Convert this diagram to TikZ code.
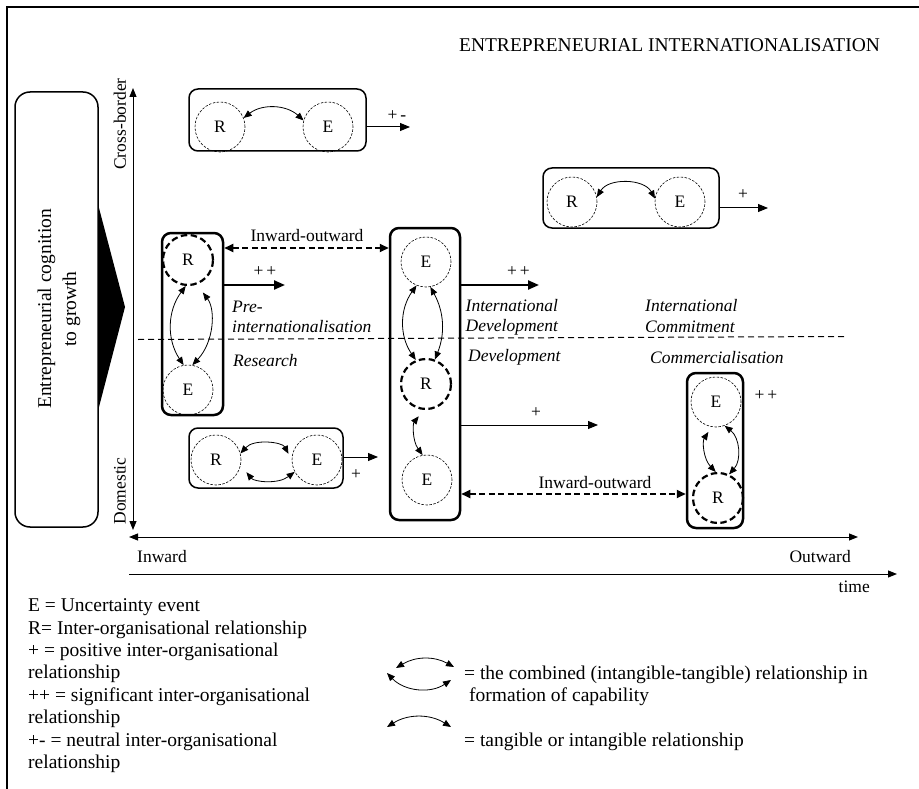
\documentclass[tikz,border=0pt]{standalone}
\usepackage{fontspec}
\setmainfont{Liberation Serif}
\usetikzlibrary{arrows.meta}
\newcommand{\fsA}{\fontsize{17.5}{20}\selectfont}
\newcommand{\fsB}{\fontsize{19.5}{25}\selectfont}
\begin{document}
\begin{tikzpicture}[x=1pt,y=-1pt,
  lbl/.style={font=\fsA, inner sep=0pt},
  ilbl/.style={font=\fsA\itshape, inner sep=0pt, anchor=base west},
  lgd/.style={font=\fsB, inner sep=0pt, anchor=base west},
  circ/.style={circle, minimum size=50pt, inner sep=0pt, font=\fsA},
  ecirc/.style={circ, draw, line width=0.6pt, dash pattern=on 2.5pt off 1.5pt},
  rcirc/.style={circ, draw, line width=2.2pt, dash pattern=on 6.5pt off 3.5pt},
  smallbox/.style={draw, rounded corners=9pt, line width=1.5pt, inner sep=0pt},
  tallbox/.style={draw, rounded corners=9pt, line width=2.5pt, inner sep=0pt},
  thinarr/.style={-{Triangle[length=10pt,width=8pt]}, line width=1pt},
  thickarr/.style={-{Triangle[length=11pt,width=9pt]}, line width=2.2pt},
  ioarr/.style={{Triangle[length=9pt,width=8pt]}-{Triangle[length=9pt,width=8pt]}, line width=2pt, dash pattern=on 6pt off 3.5pt},
  relarc/.style={{Triangle[length=8pt,width=6.5pt]}-{Triangle[length=8pt,width=6.5pt]}, line width=0.8pt},
  axisarr/.style={line width=1pt},
  dtip/.style={{Triangle[length=9pt,width=7pt]}-{Triangle[length=9pt,width=7pt]}},
  stip/.style={-{Triangle[length=9pt,width=7pt]}}
]
\useasboundingbox (0,0) rectangle (919,789);

% frame
\draw[line width=1.5pt] (7,789) -- (7,7) -- (919,7);

% title
\node[lgd, anchor=base] (title) at (669.5,52) {ENTREPRENEURIAL INTERNATIONALISATION};

% cognition box and wedge
\node[draw, rounded corners=15pt, line width=1.5pt, minimum width=83pt, minimum height=435pt, inner sep=0pt] (cog) at (56.5,309.5) {};
\node[font=\fsB, align=center, rotate=90, inner sep=0pt] (cogtxt) at (59,309) {Entrepreneurial cognition\\to growth};
\fill (99,208) -- (125,307) -- (99,407) -- cycle;

% axes
\coordinate (vtop) at (133,88);
\coordinate (vbot) at (133,530);
\draw[axisarr, dtip] (vtop) -- (vbot);
\node[lbl, rotate=90] (cross) at (120,124) {Cross-border};
\node[lbl, rotate=90] (dom) at (120,491) {Domestic};
\coordinate (hl) at (129,537);
\coordinate (hr) at (858,537);
\draw[axisarr, dtip] (hl) -- (hr);
\node[lbl, anchor=base west] (inw) at (137,562) {Inward};
\node[lbl, anchor=base east] (outw) at (851,562) {Outward};
\coordinate (tl) at (129,574);
\coordinate (tr) at (897,574);
\draw[axisarr, stip] (tl) -- (tr);
\node[lbl, anchor=base east] (time) at (870,592) {time};

% divider
\coordinate (dl) at (138,339.5);
\coordinate (dr) at (845,336.5);
\draw[line width=1pt, dash pattern=on 6pt off 4pt] (dl) -- (dr);

% boxes
\node[smallbox, minimum width=177pt, minimum height=62pt] (Btl) at (277.5,120) {};
\node[smallbox, minimum width=176pt, minimum height=60pt] (Btr) at (631,198) {};
\node[smallbox, minimum width=154pt, minimum height=60pt] (Bd) at (266,458) {};
\node[tallbox, minimum width=61pt, minimum height=182pt] (B1) at (192.5,324) {};
\node[tallbox, minimum width=70pt, minimum height=292pt] (B2) at (425,374) {};
\node[tallbox, minimum width=56pt, minimum height=155pt] (B3) at (715,450.5) {};

% circles
\node[ecirc] (Rtl) at (220,127) {R};
\node[ecirc] (Etl) at (328,127) {E};
\node[ecirc] (Rtr) at (572,202) {R};
\node[ecirc] (Etr) at (680,202) {E};
\node[ecirc] (Rd) at (216,460) {R};
\node[ecirc] (Ed) at (317,460) {E};
\node[rcirc] (R1) at (188,260) {R};
\node[ecirc] (E1) at (188,390) {E};
\node[ecirc] (E2a) at (426,262) {E};
\node[rcirc] (R2) at (426,384) {R};
\node[ecirc] (E2b) at (427,480) {E};
\node[ecirc] (E3) at (716,402) {E};
\node[rcirc] (R3) at (718,498) {R};

% relationship arcs
\draw[relarc] (Rtl.21) to[bend left=40] (Etl.165);
\draw[relarc] (Rtr.11) to[bend left=60] (Etr.172);
\draw[relarc, shorten >=7pt] (Rd.15) to[bend left=55] (Ed.180);
\draw[relarc, shorten <=9pt] (Rd.-12) to[bend right=44] (Ed.208);
\draw[relarc] (R1.265) to[bend right=35] (E1.100);
\draw[relarc, shorten <=10pt] (R1.290) to[bend left=40] (E1.80);
\draw[relarc] (E2a.248) to[bend right=35] (R2.113);
\draw[relarc] (E2a.280) to[bend left=25] (R2.70);
\draw[relarc, shorten <=8pt] (R2.265) to[bend right=37] (E2b.100);
\draw[relarc, shorten <=6pt] (E3.260) to[bend right=38] (R3.95);
\draw[relarc] (E3.290) to[bend left=47] (R3.65);

% outgoing arrows
\coordinate (atl) at (410,127);
\draw[thinarr] (Btl.east |- atl) -- (atl);
\node[lbl] (ptl) at (397,116) {+\,-};
\coordinate (atr) at (768,208);
\draw[thinarr] (Btr.east |- atr) -- (atr);
\node[lbl] (ptr) at (743,195) {+};
\coordinate (ad) at (378,457);
\draw[thinarr] (Bd.east |- ad) -- (ad);
\node[lbl] (pd) at (356,475) {+};
\coordinate (a1) at (285,285);
\draw[thickarr] (B1.east |- a1) -- (a1);
\node[lbl] (p1) at (265,271.5) {+\,+};
\coordinate (a2) at (539,285);
\draw[thickarr] (B2.east |- a2) -- (a2);
\node[lbl] (p2) at (518.5,272) {+\,+};
\coordinate (a3) at (598,425);
\draw[thinarr] (B2.east |- a3) -- (a3);
\node[lbl] (p3) at (536,413) {+};
\node[lbl] (p4) at (766,396) {+\,+};

% inward-outward
\coordinate (io1) at (300,248);
\draw[ioarr] (B1.east |- io1) -- (B2.west |- io1);
\node[lbl, anchor=base] (iot1) at (307,241) {Inward-outward};
\coordinate (io2) at (600,494);
\draw[ioarr] (B2.east |- io2) -- (B3.west |- io2);
\node[lbl, anchor=base] (iot2) at (595,488.5) {Inward-outward};

% stage labels
\node[ilbl] (pre1) at (232,312) {Pre-};
\node[ilbl] (pre2) at (232,332) {internationalisation};
\node[ilbl] (res) at (233,366) {Research};
\node[ilbl] (id1) at (465.5,311.5) {International};
\node[ilbl] (id2) at (465.5,331.5) {Development};
\node[ilbl] (dev) at (468,361.5) {Development};
\node[ilbl] (ic1) at (645,311.5) {International};
\node[ilbl] (ic2) at (645,332) {Commitment};
\node[ilbl] (com) at (650,363) {Commercialisation};

% legend
\node[lgd] (l1) at (28,611.7) {E = Uncertainty event};
\node[lgd] (l2) at (28,634.5) {R= Inter-organisational relationship};
\node[lgd] (l3) at (28,656.5) {+ = positive inter-organisational};
\node[lgd] (l4) at (28,678.5) {relationship};
\node[lgd] (l5) at (28,701) {++ = significant inter-organisational};
\node[lgd] (l6) at (28,723.5) {relationship};
\node[lgd] (l7) at (28,746) {+- = neutral inter-organisational};
\node[lgd] (l8) at (28,768) {relationship};

\coordinate (la1) at (396,668);
\coordinate (la2) at (454,667);
\coordinate (lb1) at (387,673);
\coordinate (lb2) at (451,680);
\coordinate (lc1) at (387,727);
\coordinate (lc2) at (451,727);
\draw[relarc] (la1) to[bend left=30] (la2);
\draw[relarc] (lb1) to[bend right=40] (lb2);
\draw[relarc] (lc1) to[bend left=32] (lc2);
\node[lgd] (r1) at (464,679) {= the combined (intangible-tangible) relationship in};
\node[lgd] (r2) at (469,701) {formation of capability};
\node[lgd] (r3) at (464,746) {= tangible or intangible relationship};
\end{tikzpicture}
\end{document}
